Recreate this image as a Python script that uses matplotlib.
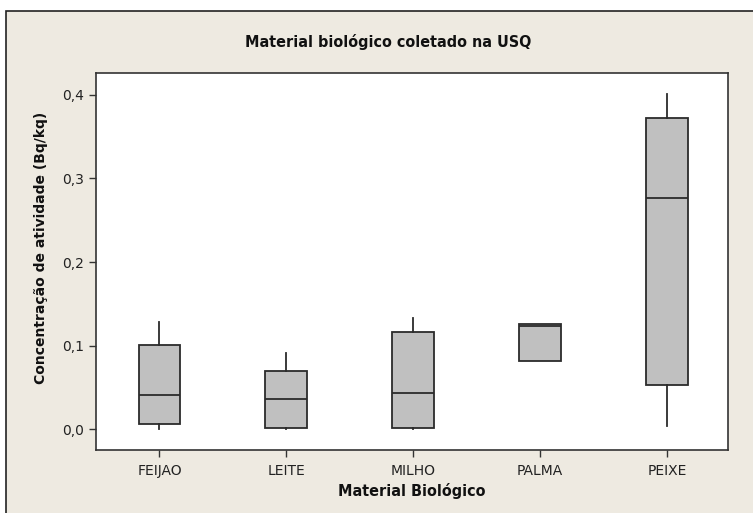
import matplotlib.pyplot as plt
from matplotlib.patches import Rectangle

# --- data ---
categories = ['FEIJAO', 'LEITE', 'MILHO', 'PALMA', 'PEIXE']
whisk_low = [0.001, 0.001, 0.001, 0.082, 0.004]
q1 = [0.007, 0.002, 0.002, 0.082, 0.053]
medians = [0.041, 0.036, 0.043, 0.123, 0.277]
q3 = [0.101, 0.070, 0.116, 0.126, 0.372]
whisk_high = [0.128, 0.091, 0.133, 0.126, 0.401]
yticks = [0.0, 0.1, 0.2, 0.3, 0.4]

bg = '#EEEAE1'
edge = '#2b2b2b'

fig = plt.figure(figsize=(7.53, 5.13), dpi=100)
fig.patch.set_facecolor('white')

# beige panel with a dark frame (screenshot cropped on right/bottom)
fig.patches.append(Rectangle((6 / 753, -0.02), 1.05, 1 - 11 / 513 + 0.02,
                             transform=fig.transFigure, facecolor=bg,
                             edgecolor='#222222', linewidth=1.2, zorder=-1))

ax = fig.add_axes([96 / 753, 1 - 450 / 513, (728 - 96) / 753, (450 - 73) / 513])
ax.set_facecolor('white')

stats = []
for i, c in enumerate(categories):
    stats.append({'label': c, 'whislo': whisk_low[i], 'q1': q1[i], 'med': medians[i],
                  'q3': q3[i], 'whishi': whisk_high[i], 'fliers': []})

ax.bxp(stats, positions=range(1, len(categories) + 1), widths=0.33,
       patch_artist=True, showcaps=False, showfliers=False,
       boxprops=dict(facecolor='#C0C0C0', edgecolor=edge, linewidth=1.3),
       medianprops=dict(color=edge, linewidth=1.3),
       whiskerprops=dict(color=edge, linewidth=1.3))

ax.set_xlim(0.5, 5.48)
ax.set_ylim(-0.0245, 0.4257)
ax.set_yticks(yticks)
ax.set_yticklabels([f'{v:.1f}'.replace('.', ',') for v in yticks])
ax.tick_params(direction='out', length=5, width=1, color='#333333',
               labelsize=10, labelcolor='#222222')
ax.tick_params(axis='x', pad=5)
for s in ax.spines.values():
    s.set_color('#333333')
    s.set_linewidth(1.2)

ax.set_xlabel('Material Biológico', family='DejaVu Sans', fontstretch='condensed',
              fontsize=11.5, fontweight='bold', labelpad=4, color='#111111')
ax.set_ylabel('Concentração de atividade (Bq/kq)', family='DejaVu Sans',
              fontsize=10, fontweight='bold', color='#111111')
ax.yaxis.set_label_coords(-0.076, 0.536)
fig.text(388 / 753, 1 - 42 / 513, 'Material biológico coletado na USQ',
         family='DejaVu Sans', fontstretch='condensed', fontsize=11.5,
         fontweight='bold', ha='center', va='center', color='#111111')

fig.savefig('out.png', dpi=100, facecolor=fig.get_facecolor())
